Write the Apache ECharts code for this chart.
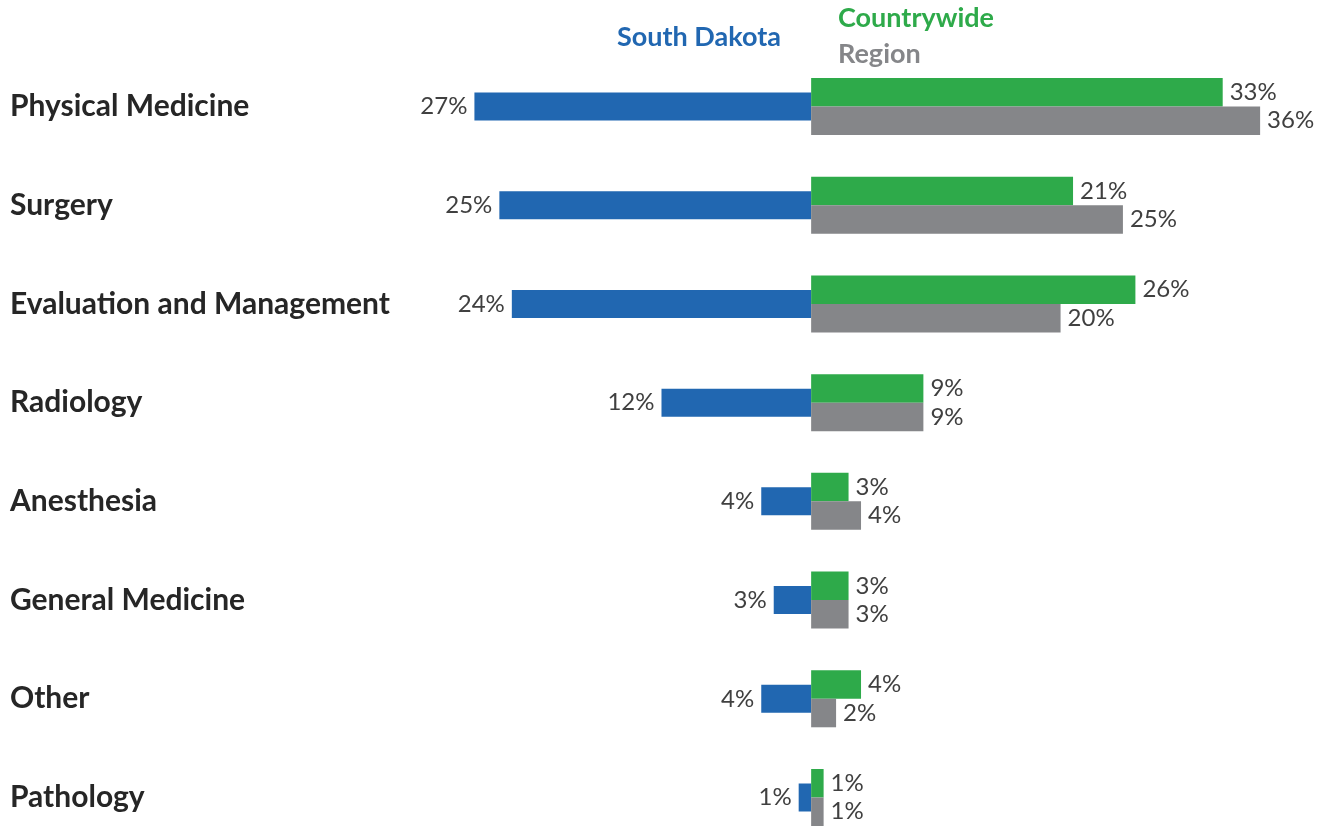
<!DOCTYPE html>
<html>
<head>
<meta charset="utf-8">
<script src="https://cdn.jsdelivr.net/npm/echarts@6/dist/echarts.min.js"></script>
<style>
  html, body { margin: 0; padding: 0; background: #fff; }
  #chart { width: 1330px; height: 827px; }
</style>
</head>
<body>
<div id="chart"></div>
<script>
const categories = ['Physical Medicine', 'Surgery', 'Evaluation and Management', 'Radiology',
  'Anesthesia', 'General Medicine', 'Other', 'Pathology'];
const southDakota = [27, 25, 24, 12, 4, 3, 4, 1];
const countrywide = [33, 21, 26, 9, 3, 3, 4, 1];
const region = [36, 25, 20, 9, 4, 3, 2, 1];

const BLUE = '#2167b1';
const GREEN = '#2eaa4a';
const GRAY = '#858689';
const FONT = 'Lato';

const chart = echarts.init(document.getElementById('chart'));

const valueLabel = (pos) => ({
  show: true,
  position: pos,
  distance: 7,
  fontFamily: FONT,
  fontSize: 24,
  color: '#404040',
  formatter: (p) => Math.abs(p.value) + '%'
});

// categories sit on the grid edges (boundaryGap false) so the rows fill the page
chart.setOption({
  animation: false,
  grid: { left: 437, width: 873, top: 106.5, height: 691, containLabel: false },
  xAxis: {
    type: 'value', min: -30, max: 40,
    show: false
  },
  yAxis: [
    {
      type: 'category', data: categories, inverse: true, boundaryGap: false,
      axisLine: { show: false }, axisTick: { show: false }, splitLine: { show: false },
      axisLabel: {
        align: 'left', margin: 427,
        fontFamily: FONT, fontWeight: 'bold', fontSize: 30, color: '#262626'
      }
    },
    {
      type: 'category', data: categories, inverse: true, boundaryGap: false, show: false
    }
  ],
  graphic: [
    { type: 'text', x: 617, y: 37, style: { text: 'South Dakota', fill: BLUE, font: 'bold 27px Lato', verticalAlign: 'middle' } },
    { type: 'text', x: 838, y: 18, style: { text: 'Countrywide', fill: GREEN, font: 'bold 27px Lato', verticalAlign: 'middle' } },
    { type: 'text', x: 838, y: 54, style: { text: 'Region', fill: GRAY, font: 'bold 27px Lato', verticalAlign: 'middle' } }
  ],
  series: [
    {
      name: 'South Dakota', type: 'bar', yAxisIndex: 1, clip: false,
      data: southDakota.map(v => -v),
      barWidth: 28,
      itemStyle: { color: BLUE },
      label: valueLabel('left')
    },
    {
      name: 'Countrywide', type: 'bar', yAxisIndex: 0, clip: false,
      data: countrywide,
      barWidth: 28.5, barGap: '0%',
      itemStyle: { color: GREEN },
      label: valueLabel('right')
    },
    {
      name: 'Region', type: 'bar', yAxisIndex: 0, clip: false,
      data: region,
      barWidth: 28.5, barGap: '0%',
      itemStyle: { color: GRAY },
      label: valueLabel('right')
    }
  ]
});
</script>
</body>
</html>
